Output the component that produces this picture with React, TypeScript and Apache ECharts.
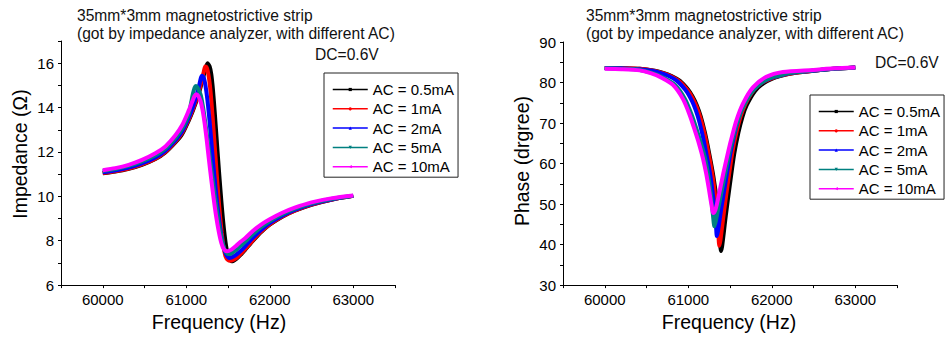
import React, { useEffect, useRef } from "react";
import * as echarts from "echarts";

const FONT = '"Liberation Sans", Arial, Helvetica, sans-serif';

const seriesNames = ["AC = 0.5mA", "AC = 1mA", "AC = 2mA", "AC = 5mA", "AC = 10mA"];
const seriesColors = ["#000000", "#ff0000", "#0000ff", "#008080", "#ff00ff"];
const seriesSymbols = ["rect", "circle", "triangle", "triangle", "triangle"];
const seriesSymbolRotate = [0, 0, 0, 180, 90];

const titleText = "35mm*3mm magnetostrictive strip\n(got by impedance analyzer, with different AC)";
const dcText = "DC=0.6V";

const xTickLabels = [60000, 61000, 62000, 63000];

// ---------- Impedance (Ohm) vs Frequency (Hz) ----------
const impFreq05 = [60000, 60150, 60300, 60470, 60630, 60750, 60870, 60950, 61027, 61078, 61147, 61188, 61227, 61254, 61280, 61300, 61320, 61340, 61360, 61380, 61400, 61420, 61440, 61460, 61480, 61500, 61520, 61546, 61600, 61650, 61705, 61800, 61900, 62000, 62150, 62300, 62500, 62750, 63000];
const imp05 = [11.04, 11.12, 11.23, 11.42, 11.68, 11.98, 12.43, 12.8, 13.39, 13.84, 14.58, 15.15, 15.7, 16.0, 15.85, 15.5, 14.8, 13.85, 12.8, 11.75, 10.75, 9.8, 8.95, 8.25, 7.7, 7.35, 7.17, 7.07, 7.18, 7.36, 7.59, 8.0, 8.4, 8.72, 9.08, 9.35, 9.62, 9.86, 10.02];

const impFreq1 = [60000, 60150, 60300, 60470, 60630, 60750, 60870, 60950, 61027, 61078, 61147, 61190, 61210, 61227, 61245, 61265, 61285, 61305, 61325, 61345, 61365, 61385, 61405, 61425, 61445, 61470, 61500, 61530, 61600, 61650, 61705, 61800, 61900, 62000, 62150, 62300, 62500, 62750, 63000];
const imp1 = [11.05, 11.13, 11.24, 11.44, 11.7, 12.0, 12.46, 12.85, 13.44, 13.9, 14.65, 15.3, 15.62, 15.85, 15.8, 15.5, 14.95, 14.1, 13.1, 12.05, 11.0, 10.0, 9.1, 8.35, 7.75, 7.3, 7.13, 7.1, 7.22, 7.4, 7.62, 8.03, 8.42, 8.74, 9.09, 9.36, 9.63, 9.86, 10.02];

const impFreq2 = [60000, 60150, 60300, 60470, 60630, 60750, 60870, 60950, 61027, 61078, 61120, 61150, 61188, 61210, 61230, 61255, 61279, 61300, 61320, 61345, 61370, 61395, 61420, 61445, 61475, 61515, 61580, 61640, 61705, 61800, 61900, 62000, 62150, 62300, 62500, 62750, 63000];
const imp2 = [11.08, 11.16, 11.28, 11.48, 11.75, 12.06, 12.52, 12.92, 13.52, 14.0, 14.5, 14.92, 15.43, 15.35, 15.0, 14.3, 13.4, 12.5, 11.6, 10.6, 9.7, 8.9, 8.25, 7.75, 7.4, 7.22, 7.32, 7.5, 7.75, 8.14, 8.5, 8.8, 9.13, 9.39, 9.65, 9.87, 10.02];

const impFreq5 = [60000, 60150, 60310, 60470, 60630, 60750, 60870, 60950, 61027, 61055, 61080, 61100, 61115, 61135, 61160, 61175, 61200, 61225, 61255, 61285, 61315, 61345, 61375, 61405, 61435, 61465, 61500, 61540, 61600, 61650, 61705, 61800, 61900, 62000, 62150, 62300, 62500, 62750, 63000];
const imp5 = [11.14, 11.23, 11.37, 11.57, 11.85, 12.15, 12.62, 13.04, 13.66, 14.15, 14.62, 14.9, 14.97, 14.9, 14.7, 14.55, 14.05, 13.4, 12.55, 11.65, 10.8, 9.95, 9.15, 8.45, 7.9, 7.55, 7.4, 7.43, 7.6, 7.77, 7.95, 8.3, 8.62, 8.88, 9.19, 9.43, 9.68, 9.89, 10.03];

const impFreq10 = [60000, 60150, 60310, 60470, 60630, 60750, 60870, 60950, 61027, 61070, 61100, 61120, 61145, 61170, 61195, 61220, 61245, 61270, 61300, 61330, 61360, 61390, 61420, 61450, 61490, 61540, 61600, 61650, 61705, 61800, 61900, 62000, 62150, 62300, 62500, 62750, 63000];
const imp10 = [11.18, 11.27, 11.42, 11.64, 11.94, 12.25, 12.75, 13.2, 13.84, 14.25, 14.52, 14.6, 14.52, 14.3, 13.9, 13.3, 12.55, 11.7, 10.75, 9.85, 9.05, 8.4, 7.9, 7.62, 7.52, 7.6, 7.78, 7.95, 8.11, 8.45, 8.74, 8.97, 9.26, 9.49, 9.73, 9.92, 10.04];

// ---------- Phase (degree) vs Frequency (Hz) ----------
const phFreq05 = [60000, 60200, 60419, 60600, 60700, 60800, 60900, 61000, 61050, 61100, 61150, 61200, 61250, 61300, 61340, 61365, 61380, 61392, 61405, 61425, 61450, 61500, 61550, 61600, 61650, 61700, 61800, 61900, 62000, 62100, 62250, 62500, 62750, 63000];
const ph05 = [83.6, 83.55, 83.4, 82.9, 82.4, 81.6, 80.4, 78.2, 76.6, 74.5, 71.6, 67.6, 62.6, 57.0, 51.0, 45.0, 40.8, 38.4, 39.5, 42.8, 47.2, 55.0, 62.3, 67.6, 71.6, 74.4, 77.9, 79.8, 80.9, 81.6, 82.3, 82.9, 83.4, 83.7];

const phFreq1 = [60000, 60200, 60419, 60600, 60700, 60800, 60900, 61000, 61050, 61100, 61150, 61200, 61250, 61300, 61330, 61350, 61362, 61372, 61385, 61405, 61430, 61480, 61530, 61580, 61630, 61680, 61780, 61880, 61980, 62080, 62250, 62500, 62750, 63000];
const ph1 = [83.6, 83.55, 83.4, 82.85, 82.3, 81.5, 80.2, 77.9, 76.2, 74.0, 71.0, 66.9, 61.8, 55.8, 50.5, 45.5, 42.0, 39.7, 41.0, 44.3, 48.5, 56.0, 63.0, 68.0, 71.8, 74.5, 78.0, 79.9, 80.9, 81.6, 82.3, 82.9, 83.4, 83.7];

const phFreq2 = [60000, 60200, 60419, 60565, 60665, 60765, 60865, 60965, 61015, 61065, 61115, 61165, 61215, 61265, 61300, 61322, 61334, 61342, 61355, 61375, 61400, 61450, 61500, 61550, 61600, 61655, 61755, 61855, 61955, 62060, 62214, 62500, 62750, 63000];
const ph2 = [83.6, 83.5, 83.3, 82.9, 82.4, 81.6, 80.4, 78.2, 76.6, 74.5, 71.6, 67.6, 62.6, 57.0, 51.5, 47.0, 44.0, 42.1, 43.2, 46.0, 49.5, 55.8, 62.0, 67.0, 70.9, 74.0, 77.6, 79.6, 80.8, 81.5, 82.3, 82.9, 83.4, 83.7];

const phFreq5 = [60000, 60200, 60419, 60575, 60705, 60842, 60962, 61042, 61102, 61155, 61202, 61240, 61270, 61292, 61305, 61312, 61330, 61360, 61400, 61450, 61500, 61550, 61600, 61650, 61750, 61850, 61950, 62050, 62200, 62500, 62750, 63000];
const ph5 = [83.5, 83.4, 83.1, 82.3, 81.2, 79.4, 75.9, 72.0, 68.3, 64.8, 61.2, 57.0, 52.5, 48.0, 45.4, 44.5, 45.8, 49.0, 53.2, 58.3, 63.3, 67.6, 71.0, 73.6, 77.3, 79.5, 80.8, 81.5, 82.3, 82.95, 83.4, 83.7];

const phFreq10 = [60000, 60200, 60419, 60550, 60680, 60817, 60937, 61017, 61077, 61130, 61177, 61215, 61248, 61275, 61300, 61325, 61350, 61380, 61420, 61464, 61510, 61576, 61655, 61775, 61935, 62134, 62500, 62750, 63000];
const ph10 = [83.4, 83.3, 83.0, 82.3, 81.2, 79.4, 75.9, 72.0, 68.3, 64.8, 61.2, 57.5, 53.6, 50.2, 47.8, 48.6, 50.6, 53.6, 57.6, 61.6, 65.6, 70.6, 74.8, 78.8, 81.4, 82.6, 83.1, 83.5, 83.7];

const impFreqs = [impFreq05, impFreq1, impFreq2, impFreq5, impFreq10];
const impValues = [imp05, imp1, imp2, imp5, imp10];
const phFreqs = [phFreq05, phFreq1, phFreq2, phFreq5, phFreq10];
const phValues = [ph05, ph1, ph2, ph5, ph10];

const pairs = (xs: number[], ys: number[]) => xs.map((x, i) => [x, ys[i]]);

const baseText = { fontFamily: FONT, color: "#000" };

function makeXAxis(gridIndex: number, namePad: number[]) {
  return {
    type: "value",
    gridIndex,
    min: 59500,
    max: 63500,
    interval: 500,
    name: "Frequency (Hz)",
    nameLocation: "middle",
    nameGap: 23,
    nameTextStyle: { ...baseText, fontSize: 19.5, padding: namePad },
    axisLine: { show: true, onZero: false, lineStyle: { color: "#000", width: 1 } },
    axisTick: { show: true, inside: false, length: 3, lineStyle: { color: "#000", width: 1 } },
    axisLabel: {
      ...baseText,
      fontSize: 15,
      margin: 7,
      showMinLabel: true,
      showMaxLabel: true,
      formatter: (v: number) => (xTickLabels.indexOf(v) >= 0 ? String(v) : ""),
    },
    splitLine: { show: false },
  };
}

export default function App() {
  const ref = useRef<HTMLDivElement>(null);

  useEffect(() => {
    if (!ref.current) return;
    const chart = echarts.init(ref.current, null, { renderer: "svg" });

    const series: any[] = [];
    seriesNames.forEach((name, i) => {
      const common = {
        type: "line",
        name,
        showSymbol: false,
        symbol: seriesSymbols[i],
        symbolSize: 4,
        symbolRotate: seriesSymbolRotate[i],
        smooth: 0.25,
        lineStyle: { width: 4, color: seriesColors[i] },
        itemStyle: { color: seriesColors[i] },
        z: 2 + i,
      };
      series.push({ ...common, xAxisIndex: 0, yAxisIndex: 0, data: pairs(impFreqs[i], impValues[i]) });
      series.push({ ...common, xAxisIndex: 1, yAxisIndex: 1, data: pairs(phFreqs[i], phValues[i]) });
    });

    const legendCommon = {
      orient: "vertical",
      padding: [9, 4, 3, 8],
      itemWidth: 35,
      itemHeight: 4,
      itemGap: 4.3,
      itemTextGap: 4,
      borderColor: "#222",
      borderWidth: 1,
      textStyle: { ...baseText, fontSize: 15 },
      lineStyle: { width: 1.5 },
      data: seriesNames,
      selectedMode: false,
    };

    const titleStyle = { ...baseText, fontSize: 15.6, fontWeight: "normal", lineHeight: 18.5, color: "#111" };

    chart.setOption({
      animation: false,
      backgroundColor: "#fff",
      title: [
        { text: titleText, left: 77, top: 6, padding: 0, textStyle: titleStyle },
        { text: dcText, left: 315, top: 45, padding: 0, textStyle: titleStyle },
        { text: titleText, left: 586, top: 6, padding: 0, textStyle: titleStyle },
        { text: dcText, left: 875, top: 53, padding: 0, textStyle: titleStyle },
      ],
      legend: [
        { ...legendCommon, left: 324, top: 73 },
        { ...legendCommon, left: 810, top: 95 },
      ],
      grid: [
        { left: 61, top: 41, width: 334, height: 246, containLabel: false },
        { left: 563, top: 42, width: 334, height: 246, containLabel: false },
      ],
      xAxis: [makeXAxis(0, [0, 18, 0, 0]), makeXAxis(1, [0, 2, 0, 0])],
      yAxis: [
        {
          type: "value",
          gridIndex: 0,
          min: 6,
          max: 17,
          interval: 1,
          name: "Impedance (Ω)",
          nameLocation: "middle",
          nameGap: 31,
          nameTextStyle: { ...baseText, fontSize: 19.5, padding: [0, 0, 0, 18] },
          axisLine: { show: true, onZero: false, lineStyle: { color: "#000", width: 1 } },
          axisTick: { show: true, inside: false, length: 3, lineStyle: { color: "#000", width: 1 } },
          axisLabel: {
            ...baseText,
            fontSize: 15,
            margin: 7,
            formatter: (v: number) => (v % 2 === 0 && v <= 16 ? String(v) : ""),
          },
          splitLine: { show: false },
        },
        {
          type: "value",
          gridIndex: 1,
          min: 30,
          max: 90,
          interval: 5,
          name: "Phase (drgree)",
          nameLocation: "middle",
          nameGap: 31,
          nameTextStyle: { ...baseText, fontSize: 19.5, padding: [0, 0, 0, 5] },
          axisLine: { show: true, onZero: false, lineStyle: { color: "#000", width: 1 } },
          axisTick: { show: true, inside: false, length: 3, lineStyle: { color: "#000", width: 1 } },
          axisLabel: {
            ...baseText,
            fontSize: 15,
            margin: 7,
            formatter: (v: number) => (v % 10 === 0 ? String(v) : ""),
          },
          splitLine: { show: false },
        },
      ],
      series,
    });

    return () => {
      chart.dispose();
    };
  }, []);

  return (
    <div
      ref={ref}
      style={{ position: "fixed", left: 0, top: 0, width: 945, height: 337, background: "#fff" }}
    />
  );
}
